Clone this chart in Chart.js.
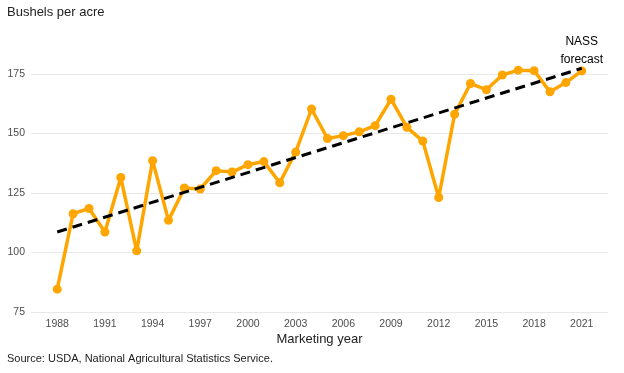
<!DOCTYPE html>
<html>
<head>
<meta charset="utf-8">
<script src="https://cdn.jsdelivr.net/npm/chart.js@4"></script>
<style>
  html, body { margin: 0; padding: 0; background: #fff; }
  #wrap { width: 624px; height: 373px; position: relative; }
</style>
</head>
<body>
<div id="wrap"><canvas id="chart1"></canvas></div>
<script>
//----------------- data -------------------------
const years = [1988, 1989, 1990, 1991, 1992, 1993, 1994, 1995, 1996, 1997, 1998,
    1999, 2000, 2001, 2002, 2003, 2004, 2005, 2006, 2007, 2008, 2009, 2010,
    2011, 2012, 2013, 2014, 2015, 2016, 2017, 2018, 2019, 2020, 2021];
const yields = [84.6, 116.3, 118.5, 108.6, 131.5, 100.7, 138.6, 113.5, 127.1, 126.7, 134.4,
    133.8, 136.9, 138.2, 129.3, 142.2, 160.3, 147.9, 149.1, 150.7, 153.3, 164.4, 152.6,
    146.8, 123.1, 158.1, 171.0, 168.4, 174.6, 176.6, 176.4, 167.5, 171.4, 176.3];
const trendYears = [1988, 2021];
const trendValues = [108.6, 177.4];
const xTicks = [1988, 1991, 1994, 1997, 2000, 2003, 2006, 2009, 2012, 2015, 2018, 2021];
const yTicks = [75, 100, 125, 150, 175];

//----------------- text plugin -------------------------
const textPlugin = {
    id: "texts",
    afterDraw(chart) {
        const ctx = chart.ctx;
        const area = chart.chartArea;
        ctx.save();
        ctx.fillStyle = "#222";
        ctx.textBaseline = "middle";
        ctx.textAlign = "left";
        ctx.font = "13px 'Liberation Sans', Arial, sans-serif";
        ctx.fillText("Bushels per acre", 7, 12);
        ctx.textAlign = "center";
        ctx.fillText("Marketing year", (area.left + area.right) / 2, 339);
        ctx.textAlign = "left";
        ctx.font = "11px 'Liberation Sans', Arial, sans-serif";
        ctx.fillText("Source: USDA, National Agricultural Statistics Service.", 7, 359);
        // annotation above last point
        const xs = chart.scales.x;
        const px = xs.getPixelForValue(years[years.length - 1]);
        ctx.fillStyle = "#000";
        ctx.textAlign = "center";
        ctx.font = "12px 'Liberation Sans', Arial, sans-serif";
        ctx.fillText("NASS", px, 42);
        ctx.fillText("forecast", px, 60);
        ctx.restore();
    }
};

//----------------- chart -------------------------
const data = {
    datasets: [{
        label: "Trend",
        data: trendYears.map((y, i) => ({ x: y, y: trendValues[i] })),
        borderColor: "#000",
        borderWidth: 3,
        borderDash: [10, 6],
        pointRadius: 0,
        order: 0
    }, {
        label: "Yield",
        data: years.map((y, i) => ({ x: y, y: yields[i] })),
        borderColor: "#FFA500",
        backgroundColor: "#FFA500",
        borderWidth: 3.5,
        borderJoinStyle: "round",
        borderCapStyle: "round",
        pointRadius: 4.5,
        pointBorderWidth: 0,
        order: 1
    }]
};

const config = {
    type: "line",
    data: data,
    options: {
        responsive: true,
        maintainAspectRatio: false,
        animation: false,
        layout: { padding: { left: 0, right: 16, top: 26.4, bottom: 0 } },
        plugins: { legend: { display: false }, tooltip: { enabled: false } },
        scales: {
            x: {
                type: "linear",
                min: 1986.35,
                max: 2022.65,
                grid: { display: false, drawTicks: false },
                border: { display: false },
                afterBuildTicks: (s) => { s.ticks = xTicks.map(v => ({ value: v })); },
                afterFit: (s) => { s.height = 373 - 312; },
                ticks: {
                    padding: 6,
                    maxRotation: 0,
                    autoSkip: false,
                    color: "#4d4d4d",
                    font: { family: "'Liberation Sans', Arial, sans-serif", size: 10.5 },
                    callback: (v) => String(v)
                }
            },
            y: {
                min: 75,
                max: 195,
                grid: { color: "#e8e8e8", lineWidth: 1, drawTicks: false },
                border: { display: false },
                afterBuildTicks: (s) => { s.ticks = yTicks.map(v => ({ value: v })); },
                afterFit: (s) => { s.width = 31; },
                ticks: {
                    padding: 6,
                    color: "#4d4d4d",
                    font: { family: "'Liberation Sans', Arial, sans-serif", size: 10.5 }
                }
            }
        }
    },
    plugins: [textPlugin]
};

const myChart = new Chart(document.getElementById("chart1").getContext("2d"), config);
</script>
</body>
</html>
